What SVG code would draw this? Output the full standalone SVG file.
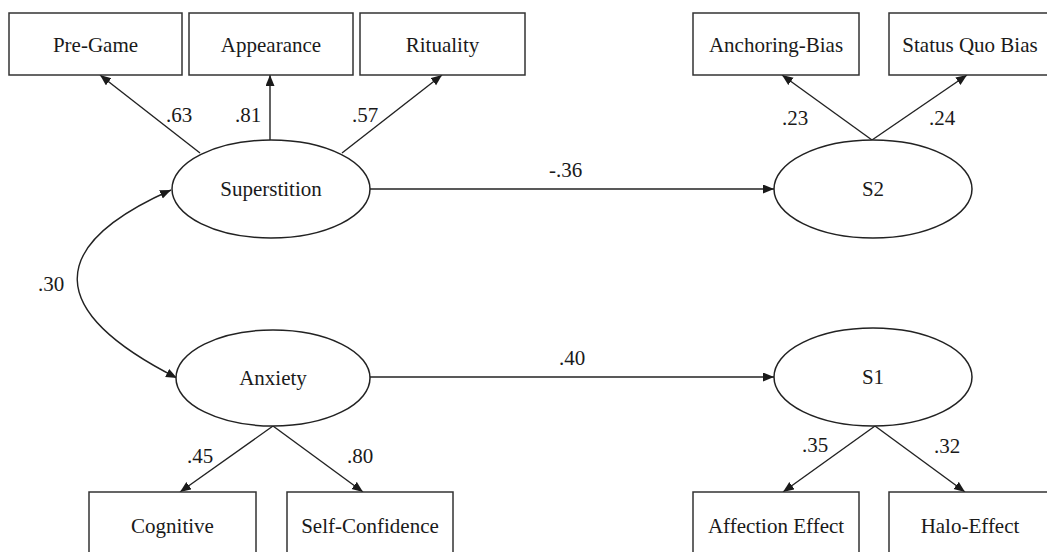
<svg xmlns="http://www.w3.org/2000/svg" width="1047" height="552" viewBox="0 0 1047 552">
<defs>
<marker id="ah" markerUnits="userSpaceOnUse" markerWidth="12" markerHeight="10" refX="11" refY="4.5" orient="auto-start-reverse"><path d="M0,0 L11,4.5 L0,9 z" fill="#1a1a1a"/></marker>
<style>
.box{fill:#fff;stroke:#333;stroke-width:1.5}
.ell{fill:#fff;stroke:#222;stroke-width:1.5}
.t{font-family:"Liberation Serif","Times New Roman",serif;font-size:21px;fill:#1a1a1a;text-anchor:middle}
.n{font-family:"Liberation Serif","Times New Roman",serif;font-size:21px;fill:#1a1a1a}
.c{stroke:#222;stroke-width:1.4;fill:none;marker-end:url(#ah)}
</style>
</defs>
<rect width="1047" height="552" fill="#fff"/>
<g id="connectors">
<line class="c" x1="200" y1="153" x2="100" y2="75"/>
<line class="c" x1="270" y1="140" x2="270" y2="75"/>
<line class="c" x1="342" y1="153" x2="442" y2="75"/>
<line class="c" x1="872" y1="140" x2="782" y2="75"/>
<line class="c" x1="872" y1="140" x2="967" y2="75"/>
<line class="c" x1="370" y1="189" x2="774" y2="189"/>
<line class="c" x1="370" y1="377" x2="774" y2="377"/>
<path class="c" style="marker-start:url(#ah)" d="M171,190 C45,246 45,311 177,378"/>
<line class="c" x1="273" y1="426" x2="180" y2="492"/>
<line class="c" x1="273" y1="426" x2="363" y2="492"/>
<line class="c" x1="875" y1="426" x2="783" y2="492"/>
<line class="c" x1="875" y1="426" x2="965" y2="492"/>
<text class="n" x="166" y="122">.63</text>
<text class="n" x="235" y="122">.81</text>
<text class="n" x="352" y="122">.57</text>
<text class="n" x="782" y="125">.23</text>
<text class="n" x="929" y="125">.24</text>
<text class="n" x="549" y="177">-.36</text>
<text class="n" x="38" y="291">.30</text>
<text class="n" x="559" y="365">.40</text>
<text class="n" x="187" y="463">.45</text>
<text class="n" x="347" y="463">.80</text>
<text class="n" x="802" y="452">.35</text>
<text class="n" x="934" y="453">.32</text>
</g>
<g id="pregame"><rect class="box" x="9" y="13" width="173" height="62"/><text class="t" x="95.5" y="52">Pre-Game</text></g>
<g id="appearance"><rect class="box" x="189" y="13" width="164" height="62"/><text class="t" x="271" y="52">Appearance</text></g>
<g id="rituality"><rect class="box" x="360" y="13" width="165" height="62"/><text class="t" x="442.5" y="52">Rituality</text></g>
<g id="anchoring"><rect class="box" x="693" y="13" width="166" height="62"/><text class="t" x="776" y="52">Anchoring-Bias</text></g>
<g id="statusquo"><rect class="box" x="889" y="13" width="162" height="62"/><text class="t" x="970" y="52">Status Quo Bias</text></g>
<g id="superstition"><ellipse class="ell" cx="271" cy="189" rx="99" ry="49"/><text class="t" x="271" y="196">Superstition</text></g>
<g id="s2"><ellipse class="ell" cx="873" cy="189" rx="99" ry="49"/><text class="t" x="873" y="196">S2</text></g>
<g id="anxiety"><ellipse class="ell" cx="273" cy="378" rx="97" ry="48"/><text class="t" x="273" y="385">Anxiety</text></g>
<g id="s1"><ellipse class="ell" cx="873" cy="377" rx="99" ry="49"/><text class="t" x="873" y="384">S1</text></g>
<g id="cognitive"><rect class="box" x="89" y="492" width="167" height="62"/><text class="t" x="172.5" y="533">Cognitive</text></g>
<g id="selfconfidence"><rect class="box" x="287" y="492" width="166" height="62"/><text class="t" x="370" y="533">Self-Confidence</text></g>
<g id="affection"><rect class="box" x="693" y="492" width="166" height="62"/><text class="t" x="776" y="533">Affection Effect</text></g>
<g id="halo"><rect class="box" x="889" y="492" width="162" height="62"/><text class="t" x="970" y="533">Halo-Effect</text></g>
</svg>
